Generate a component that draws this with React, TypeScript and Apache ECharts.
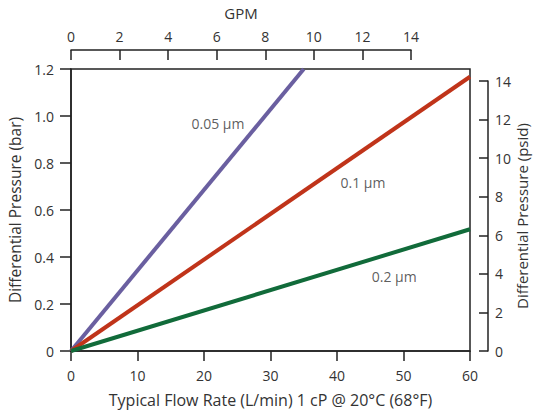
import React, { useEffect, useRef } from "react";
import * as echarts from "echarts";

const flowTicks = [0, 10, 20, 30, 40, 50, 60];
const gpmTicks = [0, 2, 4, 6, 8, 10, 12, 14];
const psidTicks = [0, 2, 4, 6, 8, 10, 12, 14];
const seriesNames = ["0.05 µm", "0.1 µm", "0.2 µm"];
const seriesColors = ["#6a5fa0", "#c0341a", "#116b3a"];
const series005 = [[0, 0], [35, 1.2]];
const series01 = [[0, 0], [60, 1.167]];
const series02 = [[0, 0], [60, 0.518]];
const labelCoords = [[22.1, 0.966], [43.9, 0.719], [48.6, 0.319]];

const FONT = "'Open Sans', sans-serif";
const TXT = "#333";
const AX = "#222";

export default function App() {
  const ref = useRef<HTMLDivElement>(null);
  useEffect(() => {
    if (!ref.current) return;
    const chart = echarts.init(ref.current, null, { renderer: "svg" });
    const datas = [series005, series01, series02];
    const axisLine = { show: true, onZero: false, lineStyle: { color: AX, width: 1.5 } };
    const tickStyle = { color: AX, width: 1.5 };
    const lineSeries = datas.map((d, i) => ({
      type: "line",
      name: seriesNames[i],
      xAxisIndex: 0,
      yAxisIndex: 0,
      data: d,
      symbol: "none",
      lineStyle: { color: seriesColors[i], width: 4 },
      clip: true,
      z: 3,
    }));
    const labelSeries = {
      type: "scatter",
      xAxisIndex: 0,
      yAxisIndex: 0,
      symbolSize: 1,
      itemStyle: { color: "rgba(0,0,0,0)" },
      silent: true,
      z: 5,
      data: labelCoords.map((c, i) => ({ value: c, name: seriesNames[i] })),
      label: { show: true, position: "inside", formatter: (p: any) => p.name, fontSize: 14, color: TXT, fontFamily: FONT },
    };
    chart.setOption({
      animation: false,
      textStyle: { fontFamily: FONT, color: TXT },
      grid: [
        { left: 71, right: 63, top: 69, bottom: 63, show: true, borderColor: AX, borderWidth: 1.5, backgroundColor: "transparent", outerBoundsMode: "none", containLabel: false },
        { left: 71, width: 340, top: 50, height: 19, outerBoundsMode: "none", containLabel: false },
        { right: 45, width: 10, top: 81, bottom: 63, outerBoundsMode: "none", containLabel: false },
      ],
      xAxis: [
        {
          gridIndex: 0, type: "value", min: flowTicks[0], max: flowTicks[flowTicks.length - 1], interval: 10,
          axisLine, axisTick: { show: true, length: 10, lineStyle: tickStyle },
          splitLine: { show: false },
          axisLabel: { margin: 17, fontSize: 14, color: TXT, fontFamily: FONT },
          name: "Typical Flow Rate (L/min) 1 cP @ 20°C (68°F)", nameLocation: "middle", nameGap: 41,
          nameTextStyle: { fontSize: 16, color: TXT, fontFamily: FONT },
        },
        {
          gridIndex: 1, type: "value", position: "top", min: gpmTicks[0], max: gpmTicks[gpmTicks.length - 1], interval: 2,
          axisLine, axisTick: { show: true, inside: true, length: 10, lineStyle: tickStyle },
          splitLine: { show: false },
          axisLabel: { margin: 7, fontSize: 14, color: TXT, fontFamily: FONT },
          name: "GPM", nameLocation: "middle", nameGap: 30,
          nameTextStyle: { fontSize: 15, color: TXT, fontFamily: FONT },
        },
        { gridIndex: 2, type: "value", show: false, min: 0, max: 1 },
      ],
      yAxis: [
        {
          gridIndex: 0, type: "value", min: 0, max: 1.2, interval: 0.2,
          axisLine, axisTick: { show: true, length: 11, lineStyle: tickStyle },
          splitLine: { show: false },
          axisLabel: { margin: 17, fontSize: 14, color: TXT, fontFamily: FONT, formatter: (v: number) => (v === 0 ? "0" : v.toFixed(1)) },
          name: "Differential Pressure (bar)", nameLocation: "middle", nameGap: 46, nameRotate: 90,
          nameTextStyle: { fontSize: 15.5, color: TXT, fontFamily: FONT },
        },
        { gridIndex: 1, type: "value", show: false, min: 0, max: 1 },
        {
          gridIndex: 2, type: "value", position: "right", min: psidTicks[0], max: psidTicks[psidTicks.length - 1], interval: 2,
          axisLine, axisTick: { show: true, inside: true, length: 9, lineStyle: tickStyle },
          splitLine: { show: false },
          axisLabel: { margin: 7, fontSize: 14, color: TXT, fontFamily: FONT },
          name: "Differential Pressure (psid)", nameLocation: "middle", nameGap: 26, nameRotate: 90,
          nameTextStyle: { fontSize: 15, color: TXT, fontFamily: FONT },
        },
      ],
      series: [...lineSeries, labelSeries],
    });
    return () => chart.dispose();
  }, []);
  return <div ref={ref} style={{ position: "fixed", left: 0, top: 0, width: 533, height: 414, background: "#fff" }} />;
}
